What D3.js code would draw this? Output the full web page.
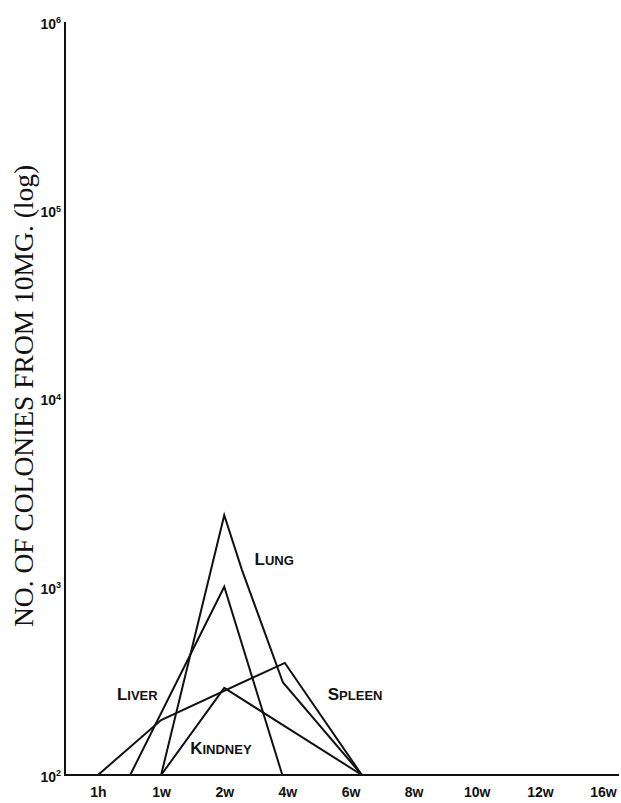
<!DOCTYPE html>
<html>
<head>
<meta charset="utf-8">
<script src="https://cdn.jsdelivr.net/npm/d3@7"></script>
<style>
  html, body { margin: 0; padding: 0; background: #fff; }
  svg { display: block; }
</style>
</head>
<body>
<svg id="chart" width="621" height="803"></svg>
<script>
// ---- data (x = position on the time axis, in tick units: 0 = 1h, 1 = 1w, 2 = 2w, 3 = 4w, ...)
const timeLabels = ["1h", "1w", "2w", "4w", "6w", "8w", "10w", "12w", "16w"];
const yTickValues = [1e2, 1e3, 1e4, 1e5, 1e6];
const yTickExponents = ["2", "3", "4", "5", "6"];

const lungX   = [1, 2, 2.28, 2.93, 4.18];
const lungV   = [100, 2400, 1230, 310, 100];
const liverX  = [0.51, 2, 2.92];
const liverV  = [100, 1000, 100];
const spleenX = [0, 1, 2.96, 4.18];
const spleenV = [100, 196, 394, 100];
const kidneyX = [1, 2, 4.18];
const kidneyV = [100, 290, 100];

const seriesNames = ["Lung", "Liver", "Spleen", "Kindney"];
const titleText = "NO. OF COLONIES FROM 10MG. (log)";

// ---- layout
const svg = d3.select("#chart");
const axisX = 65, baseY = 775, topY = 22, rightX = 619;

const x = d3.scaleLinear().domain([0, 8]).range([98, 603]);
const y = d3.scaleLog().domain([1e2, 1e6]).range([baseY, topY]);

const ink = "#111";

// axes lines
svg.append("line").attr("x1", axisX).attr("x2", axisX).attr("y1", topY).attr("y2", baseY)
  .attr("stroke", ink).attr("stroke-width", 2);
svg.append("line").attr("x1", axisX - 1).attr("x2", rightX).attr("y1", baseY).attr("y2", baseY)
  .attr("stroke", ink).attr("stroke-width", 2);

// y axis ticks
const yAxis = d3.axisLeft(y).tickValues(yTickValues).tickSize(0).tickPadding(4).tickFormat(() => "10");
const gy = svg.append("g").attr("transform", `translate(${axisX},0)`).call(yAxis);
gy.select(".domain").remove();
gy.selectAll(".tick text")
  .attr("font-family", "Liberation Sans, Arial, sans-serif")
  .attr("font-weight", "bold")
  .attr("font-size", 14)
  .attr("fill", ink)
  .attr("dy", "0.45em")
  .each(function(d, i) {
    d3.select(this).append("tspan")
      .attr("font-size", 9).attr("dy", "-0.6em").text(yTickExponents[i]);
  });

// x axis ticks
const xAxis = d3.axisBottom(x).tickValues(d3.range(timeLabels.length)).tickSize(0).tickPadding(12)
  .tickFormat(i => timeLabels[i]);
const gx = svg.append("g").attr("transform", `translate(0,${baseY})`).call(xAxis);
gx.select(".domain").remove();
gx.selectAll(".tick text")
  .attr("font-family", "Liberation Sans, Arial, sans-serif")
  .attr("font-weight", "bold")
  .attr("font-size", 14)
  .attr("fill", ink);

// y title
svg.append("text")
  .attr("transform", `translate(33,396) rotate(-90)`)
  .attr("text-anchor", "middle")
  .attr("font-family", "Liberation Serif, Times New Roman, serif")
  .attr("font-size", 27.5)
  .attr("fill", ink)
  .text(titleText);

// series lines
const line = d3.line().x(d => x(d[0])).y(d => y(d[1])).curve(d3.curveLinear);
const series = [
  [lungX, lungV], [liverX, liverV], [spleenX, spleenV], [kidneyX, kidneyV]
];
series.forEach(([xs, vs]) => {
  svg.append("path")
    .datum(xs.map((xv, i) => [xv, vs[i]]))
    .attr("d", line)
    .attr("fill", "none")
    .attr("stroke", ink)
    .attr("stroke-width", 2)
    .attr("stroke-linejoin", "miter");
});

// series labels (small caps style), anchored in data space
const labelPos = [
  [2.48, 1300], // Lung
  [0.3, 250],   // Liver
  [3.64, 250],  // Spleen
  [1.46, 130]   // Kindney
];
seriesNames.forEach((name, i) => {
  const t = svg.append("text")
    .attr("x", x(labelPos[i][0]))
    .attr("y", y(labelPos[i][1]))
    .attr("font-family", "Liberation Sans, Arial, sans-serif")
    .attr("font-weight", "bold")
    .attr("fill", ink);
  t.append("tspan").attr("font-size", 17).text(name[0].toUpperCase());
  t.append("tspan").attr("font-size", 13).text(name.slice(1).toUpperCase());
});
</script>
</body>
</html>
